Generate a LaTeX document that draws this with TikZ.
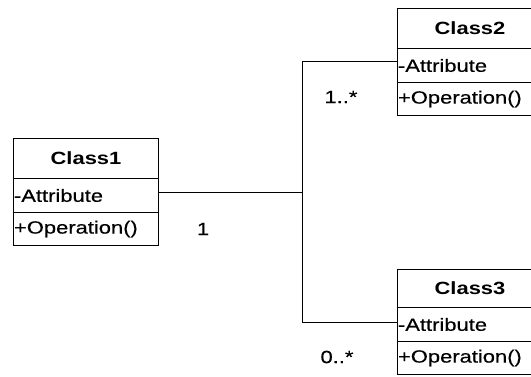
\documentclass[tikz,border=0pt]{standalone}
\usepackage{fontspec}
\newfontfamily\umlfont{Liberation Sans}[FakeStretch=1.24,FakeBold=0.3]
\newfontfamily\umlhead{Liberation Sans}[FakeStretch=1.24]
\tikzset{
  boxline/.style={draw, line width=1pt},
  hdr/.style={boxline, anchor=north west, minimum width=145pt, minimum height=40pt,
    inner sep=0pt, font=\umlhead\bfseries\fontsize{17.7}{20}\selectfont},
  row/.style={boxline, anchor=north west, minimum height=34pt, inner xsep=0.5pt, inner ysep=0pt,
    text width=144pt, align=left, font=\umlfont\fontsize{17.7}{20}\selectfont},
  conn/.style={line width=0.8pt},
  mult/.style={inner sep=0pt, font=\umlfont\fontsize{17.7}{20}\selectfont},
}
\begin{document}
\begin{tikzpicture}[x=1pt,y=-1pt]
  \clip (0,0) rectangle (531,376);
  \fill[white] (0,0) rectangle (531,376);

  % Class1
  \node[hdr] (c1) at (13,138) {Class1};
  \node[row] (c1a) at (13,178) {-Attribute};
  \node[row, minimum height=33pt] (c1o) at (13,212) {+Operation()};

  % Class2
  \node[hdr] (c2) at (397,8) {Class2};
  \node[row] (c2a) at (397,48) {-Attribute};
  \node[row, minimum height=33pt] (c2o) at (397,82) {+Operation()};

  % Class3
  \node[hdr, minimum height=38pt] (c3) at (397,269) {Class3};
  \node[row] (c3a) at (397,307) {-Attribute};
  \node[row, minimum height=33pt] (c3o) at (397,341) {+Operation()};

  % association with a shared junction
  \draw[conn] ([yshift=3pt]c1a.east) -- ++(143,0) coordinate (j);
  \draw[conn] (j) |- ([yshift=4pt]c2a.west);
  \draw[conn] (j) |- ([yshift=2pt]c3a.west);

  % multiplicities
  \node[mult] (m1) at (203,229) {1};
  \node[mult] (m2) at (341,97) {1..*};
  \node[mult] (m3) at (337,357) {0..*};
\end{tikzpicture}
\end{document}
